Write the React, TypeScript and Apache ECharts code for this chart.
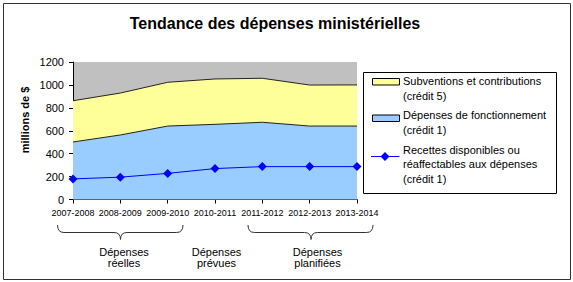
import React, { useEffect, useRef } from "react";
import * as echarts from "echarts";

const years = ["2007-2008", "2008-2009", "2009-2010", "2010-2011", "2011-2012", "2012-2013", "2013-2014"];
const operating = [502, 563, 641, 656, 674, 641, 641];
const grants = [360, 366, 382, 396, 384, 358, 359];
const revenues = [180, 195, 228, 270, 287, 287, 287];
const seriesNames = ["Subventions et contributions\n(crédit 5)", "Dépenses de fonctionnement\n(crédit 1)", "Recettes disponibles ou\nréaffectables aux dépenses\n(crédit 1)"];
const yTicks = [0, 200, 400, 600, 800, 1000, 1200];
const groupLabels = ["Dépenses\nréelles", "Dépenses\nprévues", "Dépenses\nplanifiées"];
const title = "Tendance des dépenses ministérielles";
const yName = "millions de $";

const FONT = "'Liberation Sans', Arial, sans-serif";
const YELLOW = "#ffff99";
const BLUE = "#99ccff";
const LINE = "#0000ff";

function brace(x0: number, x1: number, tipX: number, yTop: number, yMid: number, yTip: number) {
  const r = 6.5;
  const st = { stroke: "#333", lineWidth: 1, fill: "none" };
  return [
    { type: "bezierCurve", shape: { x1: x0, y1: yTop, x2: x0 + r, y2: yMid, cpx1: x0, cpy1: yMid }, style: st },
    { type: "line", shape: { x1: x0 + r, y1: yMid, x2: tipX - r, y2: yMid }, style: st },
    { type: "bezierCurve", shape: { x1: tipX - r, y1: yMid, x2: tipX, y2: yTip, cpx1: tipX, cpy1: yMid }, style: st },
    { type: "bezierCurve", shape: { x1: tipX + r, y1: yMid, x2: tipX, y2: yTip, cpx1: tipX, cpy1: yMid }, style: st },
    { type: "line", shape: { x1: tipX + r, y1: yMid, x2: x1 - r, y2: yMid }, style: st },
    { type: "bezierCurve", shape: { x1: x1 - r, y1: yMid, x2: x1, y2: yTop, cpx1: x1, cpy1: yMid }, style: st },
  ];
}

export default function App() {
  const ref = useRef<HTMLDivElement>(null);
  useEffect(() => {
    if (!ref.current) return;
    const chart = echarts.init(ref.current, null, { renderer: "svg" });
    const legendText = (text: string, x: number, y: number) => ({
      type: "text",
      x,
      y,
      style: { text, font: `11px ${FONT}`, fill: "#000", lineHeight: 14.5, textVerticalAlign: "top" },
    });
    chart.setOption({
      animation: false,
      backgroundColor: "#fff",
      textStyle: { fontFamily: FONT },
      grid: { left: 73, right: 216, top: 62, bottom: 82.5, show: true, backgroundColor: "#c0c0c0", borderWidth: 0 },
      xAxis: {
        type: "category",
        data: years,
        boundaryGap: false,
        axisLine: { lineStyle: { color: "#000", width: 1 } },
        axisTick: { show: true, length: 4, interval: 0, lineStyle: { color: "#000" } },
        axisLabel: { interval: 0, fontSize: 9, color: "#000", margin: 9, fontFamily: FONT },
        splitLine: { show: false },
      },
      yAxis: {
        type: "value",
        min: 0,
        max: 1200,
        interval: 200,
        axisLine: { show: true, lineStyle: { color: "#000", width: 1 } },
        axisTick: { show: true, length: 4, lineStyle: { color: "#000" } },
        axisLabel: { fontSize: 11, color: "#000", margin: 9, fontFamily: FONT, formatter: (v: number) => (yTicks.includes(v) ? String(v) : "") },
        splitLine: { show: false },
      },
      series: [
        {
          name: seriesNames[1],
          type: "line",
          stack: "total",
          data: operating,
          symbol: "none",
          lineStyle: { color: "#222", width: 1 },
          areaStyle: { color: BLUE, opacity: 1 },
          z: 1,
        },
        {
          name: seriesNames[0],
          type: "line",
          stack: "total",
          data: grants,
          symbol: "none",
          lineStyle: { color: "#222", width: 1 },
          areaStyle: { color: YELLOW, opacity: 1 },
          z: 1,
        },
        {
          name: seriesNames[2],
          type: "line",
          data: revenues,
          symbol: "diamond",
          symbolSize: 9,
          lineStyle: { color: LINE, width: 1 },
          itemStyle: { color: LINE },
          z: 3,
        },
      ],
      graphic: [
        { type: "rect", shape: { x: 3.5, y: 3.5, width: 567, height: 276 }, style: { fill: "none", stroke: "#333", lineWidth: 1 }, z: 100 },
        {
          type: "text",
          x: 275,
          y: 23,
          style: { text: title, font: `bold 16px ${FONT}`, fill: "#000", textAlign: "center", textVerticalAlign: "middle" },
        },
        {
          type: "text",
          x: 25,
          y: 120,
          rotation: Math.PI / 2,
          style: { text: yName, font: `bold 11px ${FONT}`, fill: "#000", textAlign: "center", textVerticalAlign: "middle" },
        },
        { type: "rect", shape: { x: 363.5, y: 72.5, width: 193, height: 121 }, style: { fill: "#fff", stroke: "#000", lineWidth: 1 } },
        { type: "rect", shape: { x: 372.5, y: 78.5, width: 27, height: 6.5 }, style: { fill: YELLOW, stroke: "#000", lineWidth: 1 } },
        legendText(seriesNames[0], 403, 74),
        { type: "rect", shape: { x: 372.5, y: 115, width: 27, height: 6.5 }, style: { fill: BLUE, stroke: "#000", lineWidth: 1 } },
        legendText(seriesNames[1], 403, 108),
        { type: "line", shape: { x1: 371, y1: 156.5, x2: 399.5, y2: 156.5 }, style: { stroke: LINE, lineWidth: 1 } },
        { type: "polygon", shape: { points: [[385, 152], [389.5, 156.5], [385, 161], [380.5, 156.5]] }, style: { fill: LINE } },
        legendText(seriesNames[2], 403, 142.5),
        ...brace(57.5, 183, 120.5, 225, 232.5, 239.5),
        ...brace(248, 373, 311, 225, 232.5, 239.5),
        {
          type: "text",
          x: 124,
          y: 257,
          style: { text: groupLabels[0], font: `11px ${FONT}`, fill: "#000", textAlign: "center", textVerticalAlign: "middle", lineHeight: 11 },
        },
        {
          type: "text",
          x: 216.5,
          y: 257,
          style: { text: groupLabels[1], font: `11px ${FONT}`, fill: "#000", textAlign: "center", textVerticalAlign: "middle", lineHeight: 11 },
        },
        {
          type: "text",
          x: 317.5,
          y: 257,
          style: { text: groupLabels[2], font: `11px ${FONT}`, fill: "#000", textAlign: "center", textVerticalAlign: "middle", lineHeight: 11 },
        },
      ],
    });
    return () => chart.dispose();
  }, []);
  return <div ref={ref} style={{ position: "fixed", left: 0, top: 0, width: 573, height: 282 }} />;
}
